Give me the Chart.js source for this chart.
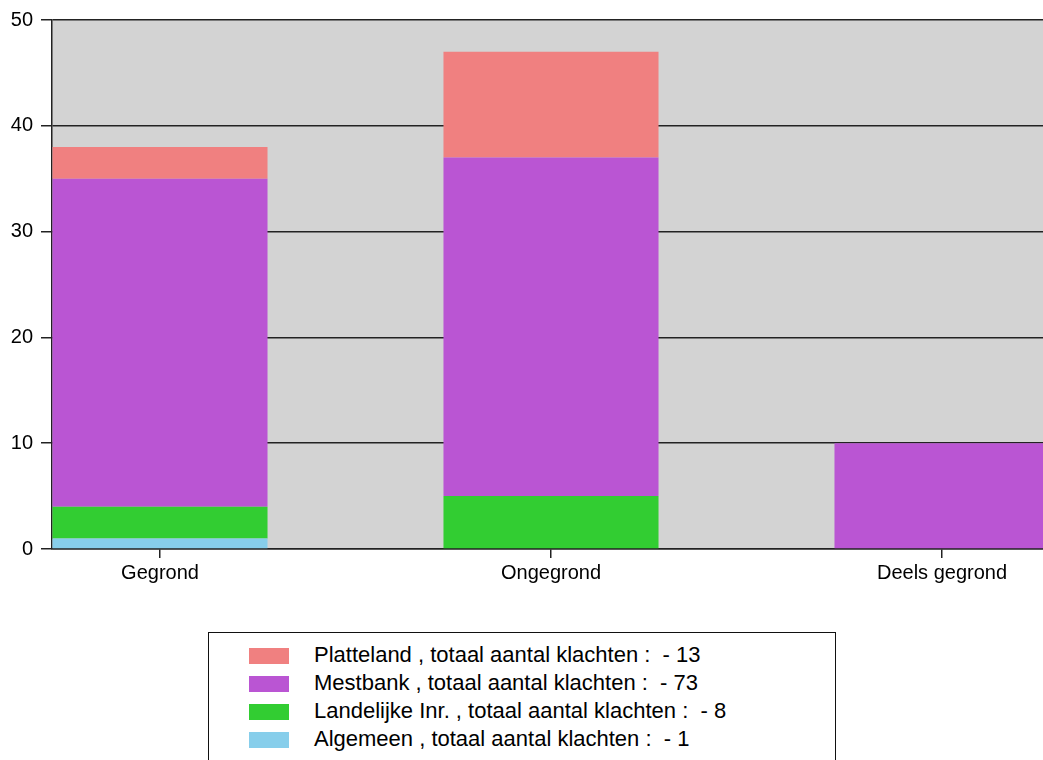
<!DOCTYPE html>
<html>
<head>
<meta charset="utf-8">
<script src="https://cdn.jsdelivr.net/npm/chart.js@4/dist/chart.umd.min.js"></script>
<style>
    html, body { margin: 0; padding: 0; background: #fff; overflow: hidden; }
    #wrap { position: relative; width: 1043px; height: 760px; }
    #legend {
        position: absolute; left: 208px; top: 632px; width: 626px; height: 200px;
        border: 1.5px solid #111; background: #fff;
        font-family: 'Liberation Sans', Arial, sans-serif; font-size: 22px; color: #000;
    }
    .item { position: absolute; left: 40px; height: 16px; white-space: pre; }
    .item span.box { position: absolute; left: 0; top: 0; width: 40px; height: 16px; }
    .item span.txt { position: absolute; left: 65px; top: -5px; line-height: 24px; }
</style>
</head>
<body>
<div id="wrap">
    <canvas id="chart" width="1043" height="760"></canvas>
    <div id="legend"></div>
</div>
<script>
let categories = ['Gegrond', 'Ongegrond', 'Deels gegrond']

let algemeen = [1, 0, 0]
let landelijke = [3, 5, 0]
let mestbank = [31, 32, 10]
let platteland = [3, 10, 0]

let yTicks = [0, 10, 20, 30, 40, 50]

let series = [
    { name: 'Algemeen', values: algemeen, color: '#87ceeb' },
    { name: 'Landelijke Inr.', values: landelijke, color: '#32cd32' },
    { name: 'Mestbank', values: mestbank, color: '#ba55d3' },
    { name: 'Platteland', values: platteland, color: '#f08080' }
]

Chart.defaults.font.family = "'Liberation Sans', Arial, sans-serif"
Chart.defaults.font.size = 20
Chart.defaults.color = '#000'

// grey plot background under the grid
let plotBackground = {
    id: 'plotBackground',
    beforeDraw(chart) {
        let a = chart.chartArea
        let ctx = chart.ctx
        ctx.save()
        ctx.fillStyle = '#d3d3d3'
        ctx.fillRect(a.left, a.top, a.right - a.left, a.bottom - a.top)
        ctx.restore()
    }
}

new Chart(document.getElementById('chart').getContext('2d'), {
    type: 'bar',
    data: {
        datasets: series.map(s => ({
            label: s.name,
            data: s.values.map((v, i) => ({ x: i, y: v })),
            backgroundColor: s.color,
            borderWidth: 0,
            categoryPercentage: 1,
            barPercentage: 0.55
        }))
    },
    options: {
        responsive: false,
        animation: false,
        devicePixelRatio: 1,
        layout: { padding: { top: 20, left: 0, right: 0, bottom: 0 } },
        plugins: { legend: { display: false }, tooltip: { enabled: false } },
        scales: {
            x: {
                type: 'linear',
                stacked: true,
                offset: false,
                min: -0.2762,
                max: 2.2583,
                afterFit(scale) { scale.height = 211 },
                border: { color: '#222', width: 1.5 },
                grid: { offset: false, drawOnChartArea: false, drawTicks: true, tickLength: 9, color: '#222', lineWidth: 1.5 },
                ticks: {
                    stepSize: 1,
                    includeBounds: false,
                    padding: 3,
                    maxRotation: 0,
                    callback: v => categories[v]
                }
            },
            y: {
                stacked: true,
                min: yTicks[0],
                max: yTicks[yTicks.length - 1],
                afterFit(scale) { scale.width = 52 },
                afterBuildTicks(scale) { scale.ticks = yTicks.map(v => ({ value: v })) },
                border: { color: '#222', width: 1.5 },
                grid: { color: '#222', tickLength: 11, lineWidth: 1.5 },
                ticks: { padding: 8 }
            }
        }
    },
    plugins: [plotBackground]
})

// legend box, top series first, each with its total number of complaints
let legend = document.getElementById('legend')
series.slice().reverse().forEach((s, i) => {
    let total = s.values.reduce((a, b) => a + b, 0)
    let item = document.createElement('div')
    item.className = 'item'
    item.style.top = (15 + i * 28) + 'px'
    let box = document.createElement('span')
    box.className = 'box'
    box.style.background = s.color
    let txt = document.createElement('span')
    txt.className = 'txt'
    txt.textContent = s.name + ' , totaal aantal klachten :  - ' + total
    item.append(box, txt)
    legend.append(item)
})
</script>
</body>
</html>
